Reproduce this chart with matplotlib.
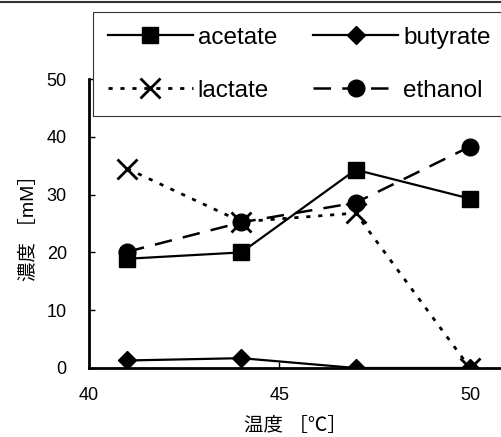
import matplotlib
matplotlib.use("Agg")
import matplotlib.pyplot as plt
from matplotlib.lines import Line2D

plt.rcParams['font.family'] = ['Liberation Sans', 'Noto Sans CJK JP']

temps = [41, 44, 47, 50]
acetate = [18.9, 20.0, 34.3, 29.3]
butyrate = [1.3, 1.7, 0.0, 0.0]
lactate = [34.5, 25.3, 26.8, 0.0]
ethanol = [20.1, 25.2, 28.6, 38.3]

fig = plt.figure(figsize=(5.02, 4.37), dpi=100)
ax = fig.add_axes([89/502, 69/437, 1 - 89/502, 289/437])

h_ac, = ax.plot(temps, acetate, color='black', lw=1.6, marker='s', ms=11.5, label='acetate')
h_bu, = ax.plot(temps, butyrate, color='black', lw=1.6, marker='D', ms=9, label='butyrate')
h_la, = ax.plot(temps, lactate, color='black', lw=2.0, ls=(0, (1.5, 2.8)), marker='x', ms=14, mew=2,
                label='lactate')
h_et, = ax.plot(temps, ethanol, color='black', lw=1.8, ls=(0, (7, 4.5)), marker='o', ms=12,
                label='ethanol')

ax.set_xlim(40, 50.84)
ax.set_ylim(0, 50)
ax.set_xticks([40, 45, 50])
ax.set_yticks([0, 10, 20, 30, 40, 50])
ax.tick_params(direction='in', length=4, width=1, labelsize=13)
ax.tick_params(axis='x', pad=14)
ax.tick_params(axis='y', pad=16)
for s in ['top', 'right']:
    ax.spines[s].set_visible(False)
for s in ['left', 'bottom']:
    ax.spines[s].set_linewidth(2)
ax.set_xlabel('温度 ［℃］', fontsize=14, labelpad=9)
ax.set_ylabel('濃度 ［mM］', fontsize=14, labelpad=6)

handles = [h_ac, h_la, h_bu, h_et]
leg = ax.legend(handles, [h.get_label() for h in handles], ncol=2, loc='upper left',
                bbox_to_anchor=(93/502, 1 - 12/437),
                bbox_transform=fig.transFigure, fontsize=17.5,
                handlelength=3.5, handletextpad=0.2, columnspacing=1.5,
                labelspacing=1.28, borderaxespad=0, fancybox=False, framealpha=1,
                edgecolor='#333333', borderpad=0.6)
leg.get_frame().set_linewidth(0.8)

fig.add_artist(Line2D([0, 1], [1 - 1.5/437, 1 - 1.5/437], transform=fig.transFigure,
                      color='#333333', lw=1.5))

fig.savefig('out.png', dpi=100)
